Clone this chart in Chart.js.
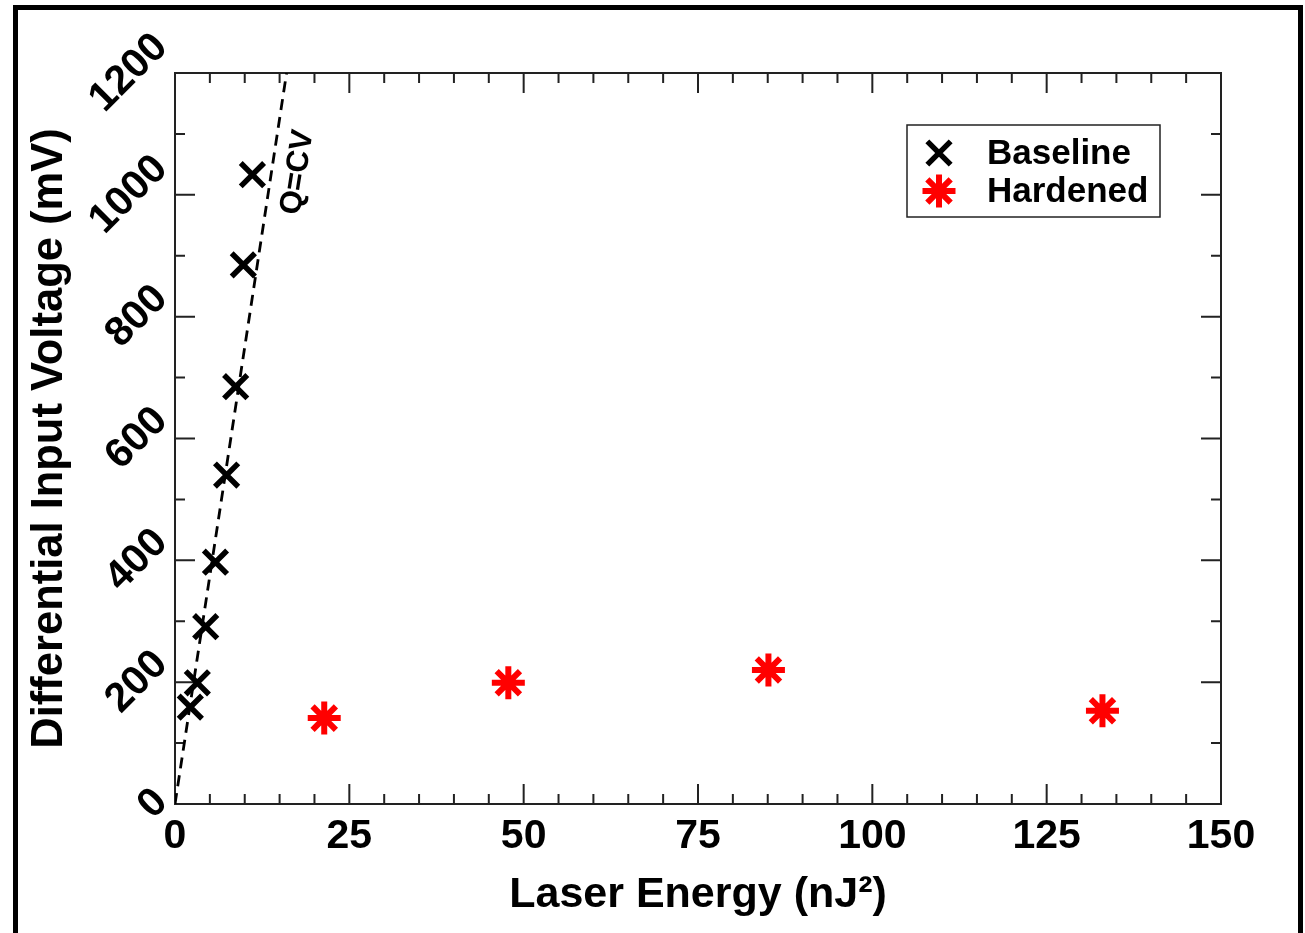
<!DOCTYPE html>
<html>
<head>
<meta charset="utf-8">
<title>Differential Input Voltage vs Laser Energy</title>
<script src="https://cdn.jsdelivr.net/npm/chart.js@4.4.1/dist/chart.umd.min.js"></script>
<style>
  html, body { margin: 0; padding: 0; background: #fff; }
  #wrap { position: relative; width: 1305px; height: 933px; overflow: hidden; }
  #frame { position: absolute; left: 13px; top: 5px; width: 1290px; height: 1000px; border: 5px solid #000; box-sizing: border-box; pointer-events: none; }
</style>
</head>
<body>
<div id="wrap">
  <canvas id="grafico"></canvas>
  <div id="frame"></div>
</div>
<script>
const FUENTE = '"Liberation Sans", Arial, Helvetica, sans-serif';

// Baseline (x marks)
const baselineEnergy = [2.2, 3.2, 4.4, 5.8, 7.4, 8.7, 9.8, 11.1];
const baselineVoltage = [159, 199, 291, 397, 540, 685, 885, 1033];
// Hardened (red asterisks)
const hardenedEnergy = [21.4, 47.8, 85.1, 133.0];
const hardenedVoltage = [141, 199, 220, 153];
// Q=CV reference line
const qcvEnergy = [0, 16.0];
const qcvVoltage = [0, 1200];

const xTickLabels = [0, 25, 50, 75, 100, 125, 150];
const yTickLabels = [0, 200, 400, 600, 800, 1000, 1200];
const xMinorStep = 5;
const yMinorStep = 100;

const toPoints = (xs, ys) => xs.map((x, i) => ({ x: x, y: ys[i] }));

const estilos = {
    baseline: { tipo: 'crossRot', color: '#000', radio: 16.5, ancho: 5.5 },
    hardened: { tipo: 'star', color: '#ff0000', radio: 16.5, ancho: 6 }
};

function dibujarMarcador(ctx, e, x, y) {
    ctx.save();
    ctx.strokeStyle = e.color;
    ctx.fillStyle = e.color;
    ctx.lineWidth = e.ancho;
    Chart.helpers.drawPoint(ctx, { pointStyle: e.tipo, radius: e.radio, borderWidth: e.ancho, rotation: 0 }, x, y);
    ctx.restore();
}

// frame around the plot with inward ticks on all four sides
const ejesInternos = {
    id: 'ejesInternos',
    beforeDatasetsDraw(chart) {
        const { ctx, chartArea: a, scales: { x, y } } = chart;
        ctx.save();
        ctx.strokeStyle = '#222';
        ctx.lineWidth = 2;
        ctx.strokeRect(a.left, a.top, a.right - a.left, a.bottom - a.top);
        ctx.beginPath();
        for (let v = x.min; v <= x.max; v += xMinorStep) {
            const px = x.getPixelForValue(v);
            const len = xTickLabels.includes(v) ? 20 : 10;
            ctx.moveTo(px, a.bottom); ctx.lineTo(px, a.bottom - len);
            ctx.moveTo(px, a.top); ctx.lineTo(px, a.top + len);
        }
        for (let v = y.min; v <= y.max; v += yMinorStep) {
            const py = y.getPixelForValue(v);
            const len = yTickLabels.includes(v) ? 20 : 10;
            ctx.moveTo(a.left, py); ctx.lineTo(a.left + len, py);
            ctx.moveTo(a.right, py); ctx.lineTo(a.right - len, py);
        }
        ctx.stroke();
        ctx.restore();
    },
    afterDraw(chart) {
        // y labels rotated 45 degrees
        const { ctx, chartArea: a, scales: { y } } = chart;
        ctx.save();
        ctx.font = 'bold 41px ' + FUENTE;
        ctx.fillStyle = '#000';
        ctx.textAlign = 'center';
        ctx.textBaseline = 'middle';
        yTickLabels.forEach(v => {
            const txt = String(v);
            const py = y.getPixelForValue(v);
            const w = ctx.measureText(txt).width;
            const cx = a.left - 14 - w * Math.SQRT1_2 / 2;
            ctx.save();
            ctx.translate(cx, py);
            ctx.rotate(-Math.PI / 4);
            ctx.fillText(txt, 0, 0);
            ctx.restore();
        });
        ctx.restore();
    }
};

// legend box + label for the dashed line
const leyenda = {
    id: 'leyenda',
    afterDatasetsDraw(chart) {
        const { ctx, chartArea: a, scales: { x, y } } = chart;
        ctx.save();

        const bx = a.right - 314, by = a.top + 52, bw = 253, bh = 92;
        ctx.strokeStyle = '#222';
        ctx.lineWidth = 1.5;
        ctx.strokeRect(bx, by, bw, bh);

        const filas = [
            { texto: 'Baseline', e: estilos.baseline, y: by + 28 },
            { texto: 'Hardened', e: estilos.hardened, y: by + 66 }
        ];
        ctx.font = 'bold 35px ' + FUENTE;
        ctx.fillStyle = '#000';
        ctx.textAlign = 'left';
        ctx.textBaseline = 'middle';
        filas.forEach(f => {
            dibujarMarcador(ctx, f.e, bx + 32, f.y);
            ctx.fillText(f.texto, bx + 80, f.y + 1);
        });

        // Q=CV along the dashed line
        ctx.font = 'bold 31px ' + FUENTE;
        ctx.textAlign = 'center';
        ctx.translate(x.getPixelForValue(17.6), y.getPixelForValue(1037));
        ctx.rotate(-81 * Math.PI / 180);
        ctx.fillText('Q=CV', 0, 0);
        ctx.restore();
    }
};

new Chart(document.getElementById('grafico'), {
    type: 'scatter',
    data: {
        datasets: [
            {
                label: 'Baseline',
                data: toPoints(baselineEnergy, baselineVoltage),
                pointStyle: estilos.baseline.tipo,
                pointRadius: estilos.baseline.radio,
                pointBorderWidth: estilos.baseline.ancho,
                borderColor: estilos.baseline.color,
                backgroundColor: estilos.baseline.color
            },
            {
                label: 'Hardened',
                data: toPoints(hardenedEnergy, hardenedVoltage),
                pointStyle: estilos.hardened.tipo,
                pointRadius: estilos.hardened.radio,
                pointBorderWidth: estilos.hardened.ancho,
                borderColor: estilos.hardened.color,
                backgroundColor: estilos.hardened.color
            },
            {
                label: 'Q=CV',
                data: toPoints(qcvEnergy, qcvVoltage),
                showLine: true,
                pointRadius: 0,
                borderColor: '#000',
                borderWidth: 2.8,
                borderDash: [11, 7]
            }
        ]
    },
    options: {
        responsive: true,
        maintainAspectRatio: false,
        animation: false,
        events: [],
        layout: { padding: { top: 73, right: 84, left: 0, bottom: 0 } },
        plugins: { legend: { display: false }, tooltip: { enabled: false } },
        scales: {
            x: {
                type: 'linear',
                min: 0, max: 150,
                grid: { display: false, drawTicks: false },
                border: { display: false },
                ticks: {
                    stepSize: 25,
                    autoSkip: false,
                    maxRotation: 0,
                    padding: 8,
                    color: '#000',
                    font: { family: FUENTE, size: 41, weight: 'bold' }
                },
                title: {
                    display: true,
                    text: 'Laser Energy (nJ²)',
                    color: '#000',
                    font: { family: FUENTE, size: 43, weight: 'bold' },
                    padding: { top: 0, bottom: 12 }
                },
                afterFit: s => { s.height = 129; }
            },
            y: {
                type: 'linear',
                min: 0, max: 1200,
                grid: { display: false, drawTicks: false },
                border: { display: false },
                ticks: { display: false, stepSize: 200 },
                title: {
                    display: true,
                    text: 'Differential Input Voltage (mV)',
                    color: '#000',
                    font: { family: FUENTE, size: 43.5, weight: 'bold' },
                    padding: { top: 24, bottom: 0 }
                },
                afterFit: s => { s.width = 175; }
            }
        }
    },
    plugins: [ejesInternos, leyenda]
});
</script>
</body>
</html>
